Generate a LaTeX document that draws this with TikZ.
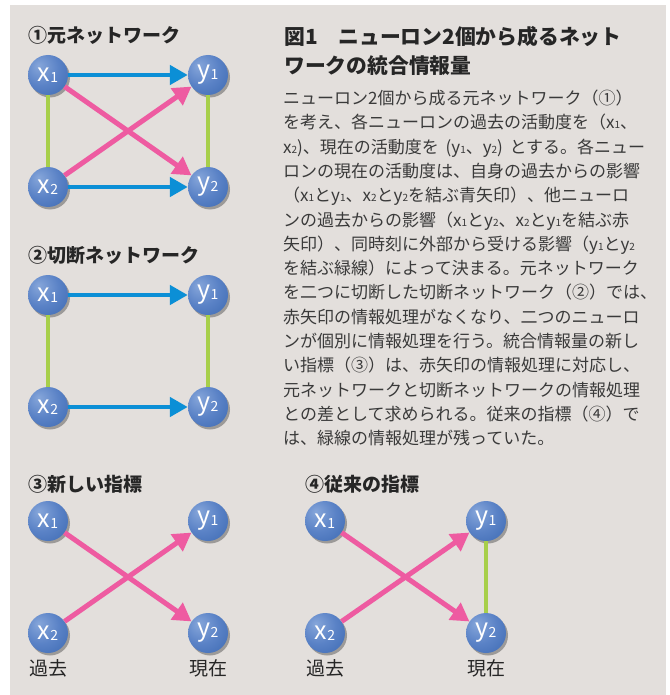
\documentclass[tikz,border=0pt]{standalone}
\usepackage{fontspec}
\setmainfont{Noto Sans CJK JP}
\usetikzlibrary{arrows.meta,shadows}
\definecolor{bgc}{HTML}{E3DFDC}
\definecolor{cblue}{HTML}{0B8FD6}
\definecolor{cpink}{HTML}{EE5BA1}
\definecolor{cgreen}{HTML}{A7CF4A}
\definecolor{txt}{HTML}{3A3A3A}
\definecolor{nb1}{HTML}{86A6DA}
\definecolor{nb2}{HTML}{5A82C6}
\definecolor{nb3}{HTML}{3563AD}
\definecolor{nb4}{HTML}{244F8E}
\pgfdeclareradialshading{nball}{\pgfpoint{-12bp}{12bp}}{color(0bp)=(nb1); color(22bp)=(nb2); color(50bp)=(nb3); color(64bp)=(nb4); color(80bp)=(nb4)}
\XeTeXinterchartokenstate=1
\newcommand\jglue{\hskip0pt plus 3pt minus 0.8pt\relax}
\XeTeXinterchartoks 1 1 = {\jglue}
\XeTeXinterchartoks 1 2 = {\jglue}
\XeTeXinterchartoks 1 3 = {\jglue}
\XeTeXinterchartoks 2 1 = {\jglue}
\XeTeXinterchartoks 3 1 = {\jglue}
\XeTeXinterchartoks 3 2 = {\jglue}
\XeTeXinterchartoks 3 3 = {\jglue}
\XeTeXinterchartoks 2 2 = {\jglue}
\XeTeXinterchartoks 0 1 = {\jglue}
\XeTeXinterchartoks 1 0 = {\jglue}
\XeTeXinterchartoks 0 2 = {\jglue}
\XeTeXinterchartoks 3 0 = {\jglue}
\newcommand\sbn[1]{{\fontsize{10}{10}\selectfont #1}}
\newcommand\nlab[2]{{\fontsize{25}{25}\selectfont #1}\raisebox{-0.5pt}{\fontsize{14}{14}\selectfont #2}}
\tikzset{
  nd/.style={circle, minimum size=40pt, inner sep=0pt, shading=nball, text=white,
    drop shadow={shadow xshift=2pt, shadow yshift=-2.5pt, opacity=0.4, fill=black!80}},
  blu/.style={draw=cblue, line width=4.5pt, -{Triangle[length=18pt,width=19pt]}},
  pnk/.style={draw=cpink, line width=5pt, -{Triangle[length=18pt,width=20pt]}},
  grn/.style={draw=cgreen, line width=4.5pt},
  sect/.style={anchor=base west, inner sep=0pt, font=\fontsize{19}{19}\selectfont\bfseries, text=black!85},
  body/.style={anchor=base west, inner sep=0pt, font=\fontsize{17}{17}\selectfont, text=txt},
  ttl/.style={anchor=base west, inner sep=0pt, font=\fontsize{20.8}{20.8}\selectfont\bfseries, text=black!85},
  tlab/.style={anchor=base, inner sep=0pt, font=\fontsize{19}{19}\selectfont, text=black!85},
}
\begin{document}
\begin{tikzpicture}[x=1pt,y=-1pt]
\useasboundingbox (0,0) rectangle (669,695);
\fill[bgc] (10,5) rectangle (666,695);

% ---------- section 1
\node[sect] (t1) at (28,42.5) {①元ネットワーク};
\node[nd] (ax1) at (48,75) {\nlab{x}{1}};
\node[nd] (ay1) at (208,75) {\nlab{y}{1}};
\node[nd] (ax2) at (48,187) {\nlab{x}{2}};
\node[nd] (ay2) at (208,187) {\nlab{y}{2}};
\draw[grn] (ax1) -- (ax2);
\draw[grn] (ay1) -- (ay2);
\draw[blu] (ax1) -- (ay1);
\draw[blu] (ax2) -- (ay2);
\draw[pnk] (ax1) -- (ay2);
\draw[pnk] (ax2) -- (ay1);

% ---------- section 2
\node[sect] (t2) at (28,262) {②切断ネットワーク};
\node[nd] (bx1) at (48,295) {\nlab{x}{1}};
\node[nd] (by1) at (208,295) {\nlab{y}{1}};
\node[nd] (bx2) at (48,407) {\nlab{x}{2}};
\node[nd] (by2) at (208,407) {\nlab{y}{2}};
\draw[grn] (bx1) -- (bx2);
\draw[grn] (by1) -- (by2);
\draw[blu] (bx1) -- (by1);
\draw[blu] (bx2) -- (by2);

% ---------- section 3
\node[sect] (t3) at (28,491) {③新しい指標};
\node[nd] (cx1) at (48,521) {\nlab{x}{1}};
\node[nd] (cy1) at (208,521) {\nlab{y}{1}};
\node[nd] (cx2) at (48,633) {\nlab{x}{2}};
\node[nd] (cy2) at (208,633) {\nlab{y}{2}};
\draw[pnk] (cx1) -- (cy2);
\draw[pnk] (cx2) -- (cy1);
\node[tlab] (cp) at (48,675) {過去};
\node[tlab] (cn) at (208,675) {現在};

% ---------- section 4
\node[sect] (t4) at (305,491) {④従来の指標};
\node[nd] (dx1) at (325,521) {\nlab{x}{1}};
\node[nd] (dy1) at (486,521) {\nlab{y}{1}};
\node[nd] (dx2) at (325,633) {\nlab{x}{2}};
\node[nd] (dy2) at (486,633) {\nlab{y}{2}};
\draw[grn] (dy1) -- (dy2);
\draw[pnk] (dx1) -- (dy2);
\draw[pnk] (dx2) -- (dy1);
\node[tlab] (dp) at (325,675) {過去};
\node[tlab] (dn) at (486,675) {現在};

% ---------- caption text
\node[ttl] (h1) at (284,45) {\makebox[361pt][s]{図1　ニューロン2個から成るネット}};
\node[ttl] (h2) at (284,73.5) {ワークの統合情報量};
\node[body] (l1) at (283,104.5) {\makebox[362pt][s]{ニューロン2個から成る元ネットワーク（①）}};
\node[body] (l2) at (283,128.8) {\makebox[362pt][s]{を考え、各ニューロンの過去の活動度を（x\sbn{1}、}};
\node[body] (l3) at (283,153.1) {\makebox[362pt][s]{x\sbn{2})、現在の活動度を (y\sbn{1}、y\sbn{2}) とする。各ニュー}};
\node[body] (l4) at (283,177.4) {\makebox[362pt][s]{ロンの現在の活動度は、自身の過去からの影響}};
\node[body] (l5) at (283,201.7) {\makebox[362pt][s]{（x\sbn{1}とy\sbn{1}、x\sbn{2}とy\sbn{2}を結ぶ青矢印）、他ニューロ}};
\node[body] (l6) at (283,226.0) {\makebox[362pt][s]{ンの過去からの影響（x\sbn{1}とy\sbn{2}、x\sbn{2}とy\sbn{1}を結ぶ赤}};
\node[body] (l7) at (283,250.3) {\makebox[362pt][s]{矢印）、同時刻に外部から受ける影響（y\sbn{1}とy\sbn{2}}};
\node[body] (l8) at (283,274.6) {\makebox[362pt][s]{を結ぶ緑線）によって決まる。元ネットワーク}};
\node[body] (l9) at (283,298.9) {\makebox[362pt][s]{を二つに切断した切断ネットワーク（②）では、}};
\node[body] (l10) at (283,323.2) {\makebox[362pt][s]{赤矢印の情報処理がなくなり、二つのニューロ}};
\node[body] (l11) at (283,347.5) {\makebox[362pt][s]{ンが個別に情報処理を行う。統合情報量の新し}};
\node[body] (l12) at (283,371.8) {\makebox[362pt][s]{い指標（③）は、赤矢印の情報処理に対応し、}};
\node[body] (l13) at (283,396.1) {\makebox[362pt][s]{元ネットワークと切断ネットワークの情報処理}};
\node[body] (l14) at (283,420.4) {\makebox[362pt][s]{との差として求められる。従来の指標（④）で}};
\node[body] (l15) at (283,444.7) {は、緑線の情報処理が残っていた。};
\end{tikzpicture}
\end{document}
